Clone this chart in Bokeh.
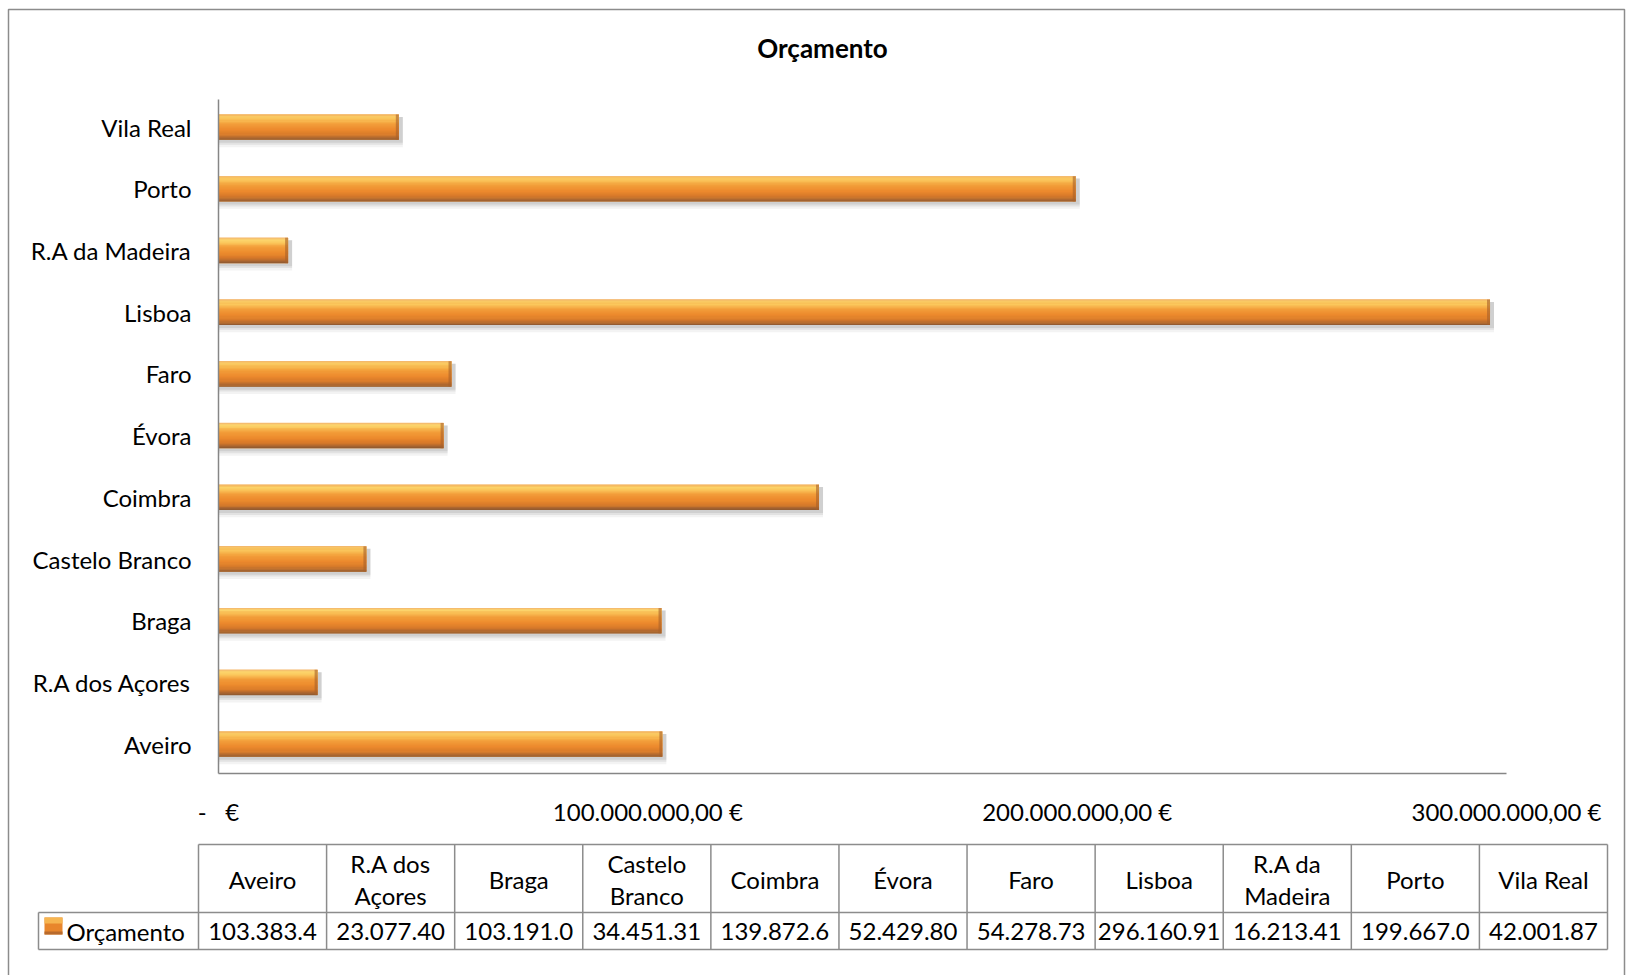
from bokeh.plotting import figure
from bokeh.models import (ColumnDataSource, Range1d, LinearAxis, FixedTicker,
                          CustomJSTickFormatter)
from bokeh.transform import dodge
from bokeh.core.properties import value
from bokeh.embed import file_html
from bokeh.resources import INLINE

# ---------------- data ----------------
title_text = "Orçamento"
series_name = "Orçamento"
categories = ["Aveiro", "R.A dos Açores", "Braga", "Castelo Branco", "Coimbra",
              "Évora", "Faro", "Lisboa", "R.A da Madeira", "Porto", "Vila Real"]
budget_eur = [103383400, 23077400, 103191000, 34451310, 139872600,
              52429800, 54278730, 296160910, 16213410, 199667000, 42001870]
table_values = ["103.383.4", "23.077.40", "103.191.0", "34.451.31", "139.872.6",
                "52.429.80", "54.278.73", "296.160.91", "16.213.41", "199.667.0",
                "42.001.87"]
x_ticks = [0, 100000000, 200000000, 300000000]
x_max = 300000000

# ---------------- layout (pixels) ----------------
W, H = 1626, 975
PL, PR, PT, PB = 218, 1506, 98.5, 772.5        # plot area
C_FIRST, C_LAST = 743.6, 126.6                  # centres of first / last band
TL, TR = 198, 1607                              # table columns extent
T_TOP, T_MID, T_BOT = 844, 912, 949             # table rows
LEG_L = 38
FONT = "Lato"
GRID_COL = "#8c8c8c"

n = len(categories)
k = (PR - PL) / x_max
u = (C_FIRST - C_LAST) / (n - 1)
cw = (TR - TL) / n

def cat_of(px):
    return 0.5 + (C_FIRST - px) / u

p = figure(width=W, height=H, x_range=Range1d(0, W), y_range=Range1d(H, 0),
           x_axis_type=None, y_axis_type=None, toolbar_location=None,
           output_backend="svg", min_border=0, title=None)
p.extra_x_ranges = {"val": Range1d(-PL / k, (W - PL) / k),
                    "col": Range1d(-TL / cw, n + (W - TR) / cw)}
p.extra_y_ranges = {"cat": Range1d(cat_of(H), cat_of(0))}
p.outline_line_color = None
p.background_fill_color = "white"
p.border_fill_color = "white"

def wrap(s):
    if len(s) > 10 and " " in s:
        a, b = s.rsplit(" ", 1)
        return a + "\n" + b
    return s

src = ColumnDataSource(dict(
    y=[i + 0.5 for i in range(n)],
    val=budget_eur,
    cx=[i + 0.5 for i in range(n)],
    hdr=[wrap(c) for c in categories],
    tv=table_values,
))

# outer chart border
p.quad(left=8, right=1624, top=9, bottom=H + 10, fill_color=None,
       line_color=GRID_COL, line_width=1.5)

# title
p.text(x=[822], y=[47], text=[title_text], text_font=value(FONT),
       text_font_style="bold", text_font_size="26px", text_align="center",
       text_baseline="middle", text_color="black")

# ---------------- bars ----------------
BAR_H = 0.41
for off, extra, alpha in [(-0.08, 0.08, 0.10), (-0.06, 0.04, 0.16), (-0.045, 0.01, 0.2)]:
    p.hbar(y=dodge("y", off), height=BAR_H + extra, left=0,
           right=dodge("val", 4 / k), source=src, x_range_name="val",
           y_range_name="cat", fill_color="#8a8a8a", fill_alpha=alpha,
           line_color=None)

# vertical gradient of the bar body (style), built from colour stops
STOPS = [(0.00, (242, 179, 110)), (0.08, (252, 214, 110)), (0.20, (251, 200, 92)),
         (0.38, (243, 158, 58)), (0.60, (236, 137, 45)), (0.80, (214, 120, 41)),
         (0.92, (170, 101, 48)), (1.00, (140, 88, 48))]

def grad(t):
    for (a, ca), (b, cb) in zip(STOPS[:-1], STOPS[1:]):
        if a <= t <= b:
            f = (t - a) / (b - a)
            c = [round(ca[j] + (cb[j] - ca[j]) * f) for j in range(3)]
            return "#%02x%02x%02x" % tuple(c)
    return "#%02x%02x%02x" % STOPS[-1][1]

NS = 24
p.hbar(y="y", height=BAR_H, left=0, right="val", source=src,
       x_range_name="val", y_range_name="cat", fill_color=grad(0.5),
       line_color=None)
for s in range(NS):
    ft, fb = s / NS, (s + 1) / NS
    p.hbar(y=dodge("y", (0.5 - (ft + fb) / 2) * BAR_H),
           height=(fb - ft) * BAR_H * 1.15, left=0, right="val", source=src,
           x_range_name="val", y_range_name="cat",
           fill_color=grad((ft + fb) / 2), line_color=None)
# darker bevelled end
p.rect(x=dodge("val", -1.5 / k), y="y", width=3, width_units="screen",
       height=BAR_H, source=src, x_range_name="val", y_range_name="cat",
       fill_color="#A8602A", fill_alpha=0.6, line_color=None)

# ---------------- axes ----------------
def style_axis(ax, standoff):
    ax.axis_line_color = "#868686"
    ax.axis_line_width = 1.5
    ax.major_tick_line_color = None
    ax.minor_tick_line_color = None
    ax.major_tick_out = 0
    ax.major_tick_in = 0
    ax.major_label_text_font = FONT
    ax.major_label_text_font_size = "24px"
    ax.major_label_text_color = "black"
    ax.major_label_standoff = standoff

yax = LinearAxis(y_range_name="cat",
                 ticker=FixedTicker(ticks=[i + 0.5 for i in range(n)]),
                 formatter=CustomJSTickFormatter(args=dict(names=categories),
                                                 code="return names[Math.floor(tick)];"),
                 fixed_location=PL, bounds=(cat_of(PB), cat_of(PT)))
style_axis(yax, 27)
p.add_layout(yax, "left")

xfmt = CustomJSTickFormatter(code=r"""
if (tick == 0) { return "-\u00a0\u00a0\u00a0\u20ac"; }
const parts = tick.toFixed(2).split(".");
return parts[0].replace(/\B(?=(\d{3})+(?!\d))/g, ".") + "," + parts[1] + " \u20ac";
""")
xax = LinearAxis(x_range_name="val", ticker=FixedTicker(ticks=x_ticks),
                 formatter=xfmt, fixed_location=PB, bounds=(0, x_max))
style_axis(xax, 24)
p.add_layout(xax, "below")

# ---------------- data table ----------------
p.segment(x0=list(range(n + 1)), y0=T_TOP, x1=list(range(n + 1)), y1=T_BOT,
          x_range_name="col", line_color=GRID_COL, line_width=1.5)
p.segment(x0=[TL, LEG_L, LEG_L, LEG_L], y0=[T_TOP, T_MID, T_BOT, T_MID],
          x1=[TR, TR, TR, LEG_L], y1=[T_TOP, T_MID, T_BOT, T_BOT],
          line_color=GRID_COL, line_width=1.5)

p.text(x="cx", y=(T_TOP + T_MID) / 2 + 1, text="hdr", source=src, x_range_name="col",
       text_font=value(FONT), text_font_size="24px", text_align="center",
       text_baseline="middle", text_line_height=1.12, text_color="black")
p.text(x="cx", y=(T_MID + T_BOT) / 2, text="tv", source=src, x_range_name="col",
       text_font=value(FONT), text_font_size="24px", text_align="center",
       text_baseline="middle", text_color="black")

# legend key + series name
p.quad(left=44, right=62, top=917, bottom=934, fill_color="#E8862C", line_color=None)
p.quad(left=44, right=62, top=917, bottom=923, fill_color="#F6B550", line_color=None)
p.quad(left=44, right=62, top=931, bottom=934, fill_color="#B86A2C", line_color=None)
p.text(x=[66], y=[(T_MID + T_BOT) / 2], text=[series_name], text_font=value(FONT),
       text_font_size="24px", text_align="left", text_baseline="middle",
       text_color="black")

open("out.html", "w").write(file_html(p, INLINE))
